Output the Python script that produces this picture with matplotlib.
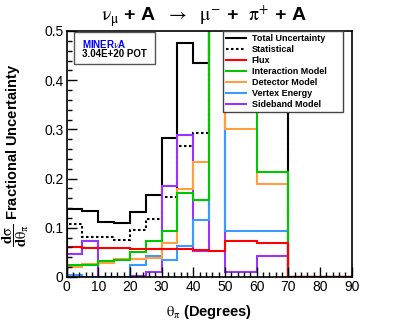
import numpy as np
import matplotlib
matplotlib.use('Agg')
import matplotlib.pyplot as plt
from matplotlib.patches import Rectangle
from matplotlib.lines import Line2D
from matplotlib.ticker import MultipleLocator, FormatStrFormatter

plt.rcParams['font.family'] = ['Liberation Sans', 'DejaVu Sans']
plt.rcParams['mathtext.fontset'] = 'stix'

# Bin edges in pion angle (degrees)
edges = [0, 5, 10, 15, 20, 25, 30, 35, 40, 45, 50, 60, 70, 90]

# Fractional uncertainties per bin (values above 0.5 run off the plot)
total = [0.139, 0.134, 0.111, 0.110, 0.133, 0.167, 0.282, 0.475, 0.434, 0.80, 0.70, 0.65, 0.0]
statistical = [0.107, 0.082, 0.082, 0.076, 0.095, 0.118, 0.162, 0.266, 0.293, 0.75, 0.60, 0.55, 0.0]
flux = [0.061, 0.059, 0.058, 0.058, 0.057, 0.057, 0.056, 0.056, 0.055, 0.053, 0.0735, 0.0695, 0.0]
interaction = [0.024, 0.025, 0.032, 0.034, 0.051, 0.074, 0.093, 0.170, 0.157, 0.80, 0.52, 0.213, 0.0]
detector = [0.020, 0.027, 0.029, 0.036, 0.037, 0.039, 0.070, 0.178, 0.233, 0.70, 0.300, 0.190, 0.0]
vertex = [0.005, 0.001, 0.0, 0.0, 0.024, 0.043, 0.035, 0.063, 0.115, 0.70, 0.093, 0.093, 0.0]
sideband = [0.047, 0.073, 0.001, 0.001, 0.003, 0.010, 0.184, 0.289, 0.053, 0.70, 0.011, 0.043, 0.0]

names = ['Total Uncertainty', 'Statistical', 'Flux', 'Interaction Model',
         'Detector Model', 'Vertex Energy', 'Sideband Model']
colors = {'Total Uncertainty': 'black', 'Statistical': 'black', 'Flux': '#ff0000',
          'Interaction Model': '#00c800', 'Detector Model': '#ffa040',
          'Vertex Energy': '#3c9aff', 'Sideband Model': '#9933ff'}
dotted = (0, (1.2, 1.2))

fig = plt.figure(figsize=(4.07, 3.28), dpi=100)
ax = fig.add_axes([0.1634, 0.1555, 0.7007, 0.75])

lw = 1.5
# draw order: totals first, then systematics from bottom of legend up
ax.stairs(total, edges, color=colors['Total Uncertainty'], lw=lw)
ax.stairs(statistical, edges, color=colors['Statistical'], lw=lw, ls=dotted)
ax.stairs(sideband, edges, color=colors['Sideband Model'], lw=lw)
ax.stairs(vertex, edges, color=colors['Vertex Energy'], lw=lw)
ax.stairs(detector, edges, color=colors['Detector Model'], lw=lw)
ax.stairs(interaction, edges, color=colors['Interaction Model'], lw=lw)
ax.stairs(flux, edges, color=colors['Flux'], lw=lw)

ax.set_xlim(0, 90)
ax.set_ylim(0, 0.5)

ax.xaxis.set_major_locator(MultipleLocator(10))
ax.xaxis.set_minor_locator(MultipleLocator(2))
ax.yaxis.set_major_locator(MultipleLocator(0.1))
ax.yaxis.set_minor_locator(MultipleLocator(0.02))
ax.yaxis.set_major_formatter(FormatStrFormatter('%g'))
ax.tick_params(which='both', direction='in', top=False, right=False, labelsize=10, pad=2)
ax.tick_params(which='major', length=7, width=1)
ax.tick_params(which='minor', length=3.5, width=1)
for s in ax.spines.values():
    s.set_linewidth(1.2)

ax.set_xlabel(r'$\mathrm{\theta}_{\mathrm{\pi}}$ (Degrees)', fontsize=10.5, fontweight='bold')
ax.xaxis.set_label_coords(0.5, -0.105)
ax.set_ylabel(r'$\dfrac{\mathbf{d}\mathrm{\sigma}}{\mathbf{d}\mathrm{\theta}_{\mathrm{\pi}}}$ Fractional Uncertainty',
              fontsize=10.5, fontweight='bold')
ax.yaxis.set_label_coords(-0.125, 0.495)

fig.text(0.5, 0.935,
         r'$\mathrm{\nu}_{\mathrm{\mu}}$ + A  $\rightarrow$  $\mathrm{\mu}^{-}$ +  $\mathrm{\pi}^{+}$ + A',
         ha='center', va='baseline', fontsize=14, fontweight='bold')

handles = [Line2D([], [], color=colors[k], lw=lw, ls=dotted if k == 'Statistical' else '-')
           for k in names]
leg = ax.legend(handles, names, loc='upper left', bbox_to_anchor=(0.549, 0.0, 0.42, 1.0),
                mode='expand', prop={'weight': 'bold', 'size': 6.5}, frameon=True,
                fancybox=False, edgecolor='#444444', framealpha=1, borderaxespad=0,
                handlelength=2.2, handletextpad=0.6, labelspacing=0.22, borderpad=0.35)
leg.get_frame().set_linewidth(1.0)
leg.set_zorder(10)

# MINERvA box
ax.add_patch(Rectangle((0.028, 0.866), 0.283, 0.13, transform=ax.transAxes,
                       fill=True, facecolor='white', edgecolor='#555555', lw=1.0, zorder=9))
ax.text(0.056, 0.932, r'MINER$\mathrm{\nu}$A', transform=ax.transAxes, color='#0000ff',
        fontsize=7, fontweight='bold', va='baseline', zorder=11)
ax.text(0.056, 0.895, '3.04E+20 POT', transform=ax.transAxes, color='black',
        fontsize=7, fontweight='bold', va='baseline', zorder=11)

fig.savefig('out.png', dpi=100)
